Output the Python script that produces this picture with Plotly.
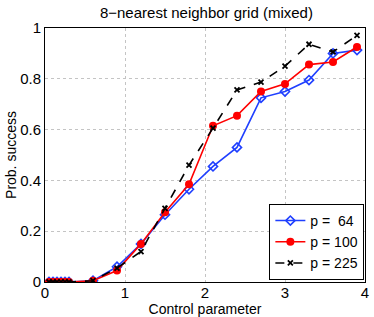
import plotly.graph_objects as go

x_vals = [0.05, 0.1, 0.15, 0.2, 0.25, 0.3, 0.6, 0.9, 1.2, 1.5, 1.8, 2.1, 2.4, 2.7, 3.0, 3.3, 3.6, 3.9]
p64 = [0, 0, 0, 0, 0, 0, 0.005, 0.06, 0.15, 0.265, 0.365, 0.455, 0.53, 0.725, 0.75, 0.795, 0.9, 0.913]
p100 = [0, 0, 0, 0, 0, 0, 0.005, 0.045, 0.15, 0.275, 0.385, 0.615, 0.655, 0.75, 0.78, 0.856, 0.866, 0.925]
p225 = [0, 0, 0, 0, 0, 0, 0.005, 0.055, 0.12, 0.29, 0.46, 0.606, 0.756, 0.787, 0.85, 0.936, 0.906, 0.971]
labels = ["p =\u00a0\u00a064", "p = 100", "p = 225"]

font = "Liberation Sans, Arial, sans-serif"
fig = go.Figure()
fig.add_trace(go.Scatter(x=x_vals, y=p64, name=labels[0], mode="lines+markers",
                         line=dict(color="#1f3fff", width=1.6),
                         marker=dict(symbol="diamond-open", size=7, color="#1f3fff", line=dict(width=1.6))))
fig.add_trace(go.Scatter(x=x_vals, y=p100, name=labels[1], mode="lines+markers",
                         line=dict(color="#ff0000", width=1.6),
                         marker=dict(symbol="circle", size=8, color="#ff0000")))
fig.add_trace(go.Scatter(x=x_vals, y=p225, name=labels[2], mode="lines+markers",
                         line=dict(color="black", width=1.6, dash="dash"),
                         marker=dict(symbol="x-thin-open", size=5, color="black", line=dict(width=1.8, color="black"))))

axis_common = dict(showline=True, linecolor="black", linewidth=1, mirror=True,
                   showgrid=True, gridcolor="#c4c4c4", griddash="dot", gridwidth=1,
                   zeroline=False, ticks="",
                   automargin=False,
                   tickfont=dict(size=15, color="black", family=font))
fig.update_xaxes(range=[0, 4], tickvals=[0, 1, 2, 3, 4], ticktext=["0", "1", "2", "3", "4"],
                 ticklabelstandoff=-3,
                 title=dict(text="Control parameter", font=dict(size=14, color="black", family=font), standoff=3),
                 **axis_common)
fig.update_yaxes(range=[0, 1], tickvals=[0, 0.2, 0.4, 0.6, 0.8, 1], ticktext=["0", "0.2", "0.4", "0.6", "0.8", "1"],
                 title=dict(text="Prob. success", font=dict(size=14, color="black", family=font), standoff=0),
                 **axis_common)
fig.update_layout(
    width=374, height=317,
    margin=dict(l=45, r=9, t=28, b=35, autoexpand=False),
    plot_bgcolor="white", paper_bgcolor="white",
    title=dict(text="8\u2212nearest neighbor grid (mixed)", x=0.552, xanchor="center", xref="container",
               yref="container", y=1 - 13 / 317, yanchor="middle",
               font=dict(size=15, color="black", family=font)),
    legend=dict(x=0.998, y=0.008, xanchor="right", yanchor="bottom", bordercolor="black", borderwidth=1,
                bgcolor="white", font=dict(size=14, color="black", family=font),
                tracegroupgap=0, itemwidth=30),
    showlegend=True,
)
fig.write_html("out.html", config={"displayModeBar": False},
               post_script="document.body.style.margin='0';document.body.style.padding='0';")
